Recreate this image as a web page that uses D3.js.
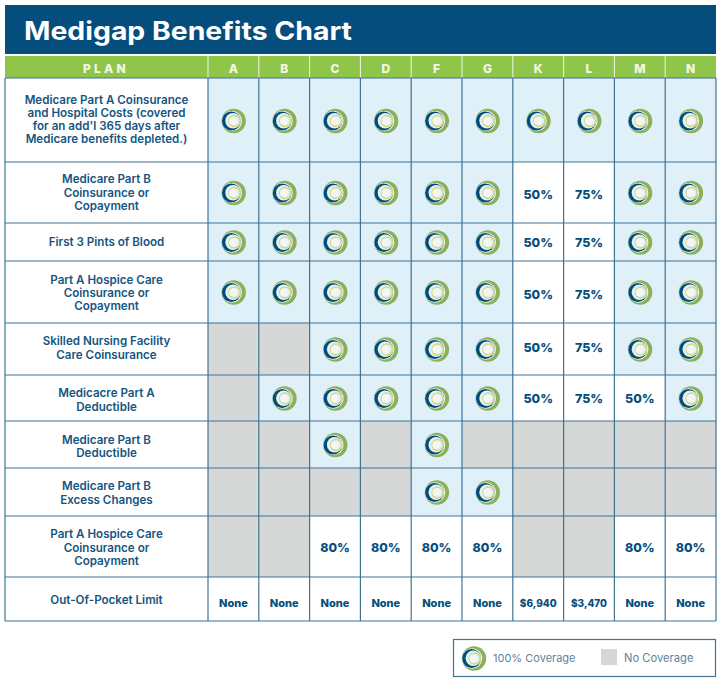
<!DOCTYPE html>
<html><head><meta charset="utf-8">
<script src="https://cdn.jsdelivr.net/npm/d3@7/dist/d3.min.js"></script>
<style>html,body{margin:0;background:#fff}svg{display:block}text{font-family:Inter,"Open Sans",sans-serif}</style>
</head><body><div id="c"></div>
<script>
const title = "Medigap Benefits Chart";
const planHeader = "PLAN";
const plans = ["A","B","C","D","F","G","K","L","M","N"];
const benefits = [
 ["Medicare Part A Coinsurance","and Hospital Costs (covered","for an add'l 365 days after","Medicare benefits depleted.)"],
 ["Medicare Part B","Coinsurance or","Copayment"],
 ["First 3 Pints of Blood"],
 ["Part A Hospice Care","Coinsurance or","Copayment"],
 ["Skilled Nursing Facility","Care Coinsurance"],
 ["Medicacre Part A","Deductible"],
 ["Medicare Part B","Deductible"],
 ["Medicare Part B","Excess Changes"],
 ["Part A Hospice Care","Coinsurance or","Copayment"],
 ["Out-Of-Pocket Limit"]
];
// Y = 100% coverage, "" = no coverage, otherwise the printed value
const Y="Y", N="";
const coverage = [
 [Y,Y,Y,Y,Y,Y,Y,Y,Y,Y],
 [Y,Y,Y,Y,Y,Y,"50%","75%",Y,Y],
 [Y,Y,Y,Y,Y,Y,"50%","75%",Y,Y],
 [Y,Y,Y,Y,Y,Y,"50%","75%",Y,Y],
 [N,N,Y,Y,Y,Y,"50%","75%",Y,Y],
 [N,Y,Y,Y,Y,Y,"50%","75%","50%",Y],
 [N,N,Y,N,Y,N,N,N,N,N],
 [N,N,N,N,Y,Y,N,N,N,N],
 [N,N,"80%","80%","80%","80%",N,N,"80%","80%"],
 ["None","None","None","None","None","None","$6,940","$3,470","None","None"]
];
const legendItems = ["100% Coverage","No Coverage"];

const NAVY="#044d7c", LINE="#3f7396", GREEN="#8fc649", BLUE="#dff0f9", GRAY="#d6d8d8", TXT="#15557f";
const rowEdges=[78,162,223,261,323,375,421,468,516,577,621];
const labelNudge=[-0.5,0,0,1,-1,2,2,1,1,1];
const valueNudge=[0,1,-1,1,-3,-1,0,0,0,0];
const gridL=5, gridR=716, colL=208;

const svg=d3.select("#c").append("svg").attr("width",720).attr("height",681);
const defs=svg.append("defs");
defs.append("filter").attr("id","soft").append("feGaussianBlur").attr("stdDeviation",0.35);
const x=d3.scaleBand().domain(plans).range([colL,gridR]);
const y=d3.scaleOrdinal().domain(d3.range(benefits.length)).range(rowEdges.slice(0,-1));
const rowH=i=>rowEdges[i+1]-rowEdges[i];

function logo(g,cx,cy){
  const a=g.append("g").attr("transform",`translate(${cx},${cy})`).attr("filter","url(#soft)");
  a.append("circle").attr("r",12.2).attr("fill","#8cb05a");
  a.append("circle").attr("cx",-1.9).attr("r",10.2).attr("fill","#e6f1ee");
  a.append("circle").attr("cx",-2.4).attr("r",9.4).attr("fill",NAVY);
  a.append("circle").attr("cx",-0.7).attr("cy",-0.3).attr("r",7.7).attr("fill","#e4f1f6");
  a.append("circle").attr("cx",0.7).attr("r",5.5).attr("fill","none").attr("stroke","#d8d77c").attr("stroke-width",1.5);
  a.append("circle").attr("cx",-0.6).attr("r",3.9).attr("fill","#f2f7f6");
}

svg.append("rect").attr("x",gridL).attr("y",5).attr("width",711).attr("height",49).attr("fill",NAVY);
svg.append("text").attr("x",24).attr("y",39.5).attr("fill","#fff").attr("font-size",25.5).attr("font-weight",700)
  .attr("textLength",328).attr("lengthAdjust","spacingAndGlyphs").text(title);

svg.append("rect").attr("x",gridL).attr("y",56).attr("width",711).attr("height",22).attr("fill",GREEN);
svg.append("text").attr("x",106).attr("y",73).attr("text-anchor","middle").attr("fill","#f2f8e4")
  .attr("font-size",12).attr("font-weight",800).attr("letter-spacing",3.2).text(planHeader);
const hdr=svg.append("g");
hdr.selectAll("text").data(plans).join("text").attr("x",d=>x(d)+x.bandwidth()/2).attr("y",73).attr("text-anchor","middle")
  .attr("fill","#f2f8e4").attr("font-size",12).attr("font-weight",800).text(d=>d);
hdr.selectAll("line").data(plans).join("line").attr("x1",d=>x(d)).attr("x2",d=>x(d)).attr("y1",56).attr("y2",78).attr("stroke","#eef5df").attr("stroke-width",1);

const rows=svg.append("g").selectAll("g").data(benefits).join("g");
rows.each(function(lines,i){
  const g=d3.select(this), mid=y(i)+rowH(i)/2;
  g.selectAll("text.b").data(lines).join("text").attr("class","b").attr("x",106.5)
   .attr("y",(d,k)=>mid+labelNudge[i]+(k-(lines.length-1)/2)*13.1+4).attr("text-anchor","middle")
   .attr("fill",TXT).attr("font-size",11.6).attr("font-weight",600).text(d=>d);
  plans.forEach((p,j)=>{
    const v=coverage[i][j], cx=x(p)+x.bandwidth()/2;
    const fill = v===Y?BLUE : v===N?GRAY : "#fff";
    g.append("rect").attr("x",x(p)).attr("y",y(i)).attr("width",x.bandwidth()).attr("height",rowH(i)).attr("fill",fill);
    if(v===Y) logo(g,cx+0.3,mid+(i===0?1:0.5));
    else if(v!==N){
      const small=i===9, money=v[0]==="$";
      g.append("text").attr("x",cx).attr("y",small?mid+8:mid+5.5+valueNudge[i]).attr("text-anchor","middle")
       .attr("fill",NAVY).attr("font-weight",800).attr("font-size",money?10:small?11:12.4).text(v);
    }
  });
});

const grid=svg.append("g").attr("stroke",LINE).attr("stroke-width",1.2).attr("fill","none");
grid.selectAll("line.h").data(rowEdges).join("line").attr("class","h").attr("x1",gridL).attr("x2",gridR).attr("y1",d=>d).attr("y2",d=>d);
grid.selectAll("line.v").data(plans.map(p=>x(p)).concat([gridL,gridR])).join("line").attr("class","v")
  .attr("x1",d=>d).attr("x2",d=>d).attr("y1",78).attr("y2",621);

const leg=svg.append("g");
leg.append("rect").attr("x",453.5).attr("y",639.5).attr("width",262).attr("height",37).attr("fill","#fff").attr("stroke",LINE).attr("stroke-width",1.2);
logo(leg,474,658.5);
leg.append("text").attr("x",493).attr("y",662).attr("fill","#5f8298").attr("font-size",11).text(legendItems[0]);
leg.append("rect").attr("x",601).attr("y",649).attr("width",16).attr("height",16).attr("fill",GRAY);
leg.append("text").attr("x",624).attr("y",662).attr("fill","#5f8298").attr("font-size",11.2).text(legendItems[1]);
</script></body></html>
